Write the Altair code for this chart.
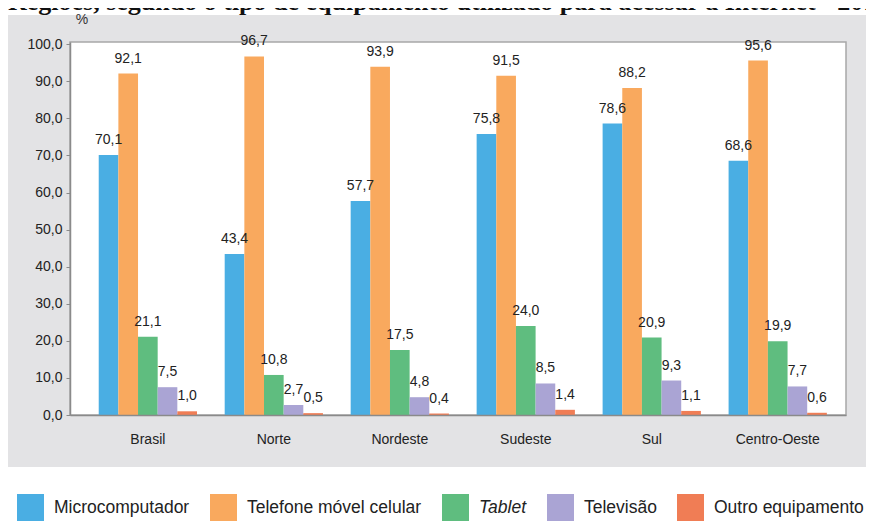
import altair as alt
import pandas as pd

regioes = ["Brasil", "Norte", "Nordeste", "Sudeste", "Sul", "Centro-Oeste"]
equipamentos = ["Microcomputador", "Telefone móvel celular", "Tablet", "Televisão", "Outro equipamento"]
microcomputador = [70.1, 43.4, 57.7, 75.8, 78.6, 68.6]
telefone = [92.1, 96.7, 93.9, 91.5, 88.2, 95.6]
tablet = [21.1, 10.8, 17.5, 24.0, 20.9, 19.9]
televisao = [7.5, 2.7, 4.8, 8.5, 9.3, 7.7]
outro = [1.0, 0.5, 0.4, 1.4, 1.1, 0.6]
y_ticks = [0, 10, 20, 30, 40, 50, 60, 70, 80, 90, 100]
cores = ["#4aaee3", "#f9a95e", "#5fbd7f", "#aaa4d4", "#f07d55"]
titulo = "Regiões, segundo o tipo de equipamento utilizado para acessar a Internet - 2015"

series = [microcomputador, telefone, tablet, televisao, outro]
rows = []
for eq, vals in zip(equipamentos, series):
    for r, v in zip(regioes, vals):
        rows.append({"regiao": r, "equip": eq, "valor": v})
df = pd.DataFrame(rows)

W, H = 776, 373
FONT = "Liberation Sans"

x = alt.X("regiao:N", sort=regioes, title=None,
          scale=alt.Scale(paddingInner=0.22, paddingOuter=0.19, align=0.6),
          axis=alt.Axis(labelFont=FONT, labelFontSize=14, labelColor="#222", labelAngle=0,
                        ticks=False, labelPadding=24, labelBaseline="middle",
                        domainColor="#8a8a8a", domainWidth=1.5, zindex=1))
y = alt.Y("valor:Q", title=None,
          scale=alt.Scale(domain=[0, 100.6], nice=False),
          axis=alt.Axis(values=y_ticks, grid=False, labelFont=FONT, labelFontSize=14,
                        labelColor="#222", tickSize=4, tickColor="#8a8a8a", labelPadding=4,
                        domainColor="#8a8a8a", domainWidth=1.5, zindex=1,
                        labelExpr="replace(format(datum.value, '.1f'), '.', ',')"))
xoff = alt.XOffset("equip:N", sort=equipamentos, scale=alt.Scale(paddingInner=0, paddingOuter=0))
color = alt.Color("equip:N", sort=equipamentos,
                  scale=alt.Scale(domain=equipamentos, range=cores),
                  legend=alt.Legend(orient="none", legendX=-53, legendY=452, direction="horizontal",
                                    columns=5, title=None, symbolType="square", symbolSize=729,
                                    symbolStrokeWidth=0, symbolOpacity=1, labelFont=FONT,
                                    labelFontSize=17.5, labelColor="#222", labelOffset=10,
                                    columnPadding=20, padding=0, labelLimit=400,
                                    labelFontStyle=alt.ExprRef(expr="datum.label == 'Tablet' ? 'italic' : 'normal'")))

one = pd.DataFrame({"a": [0]})

panel = alt.Chart(one).mark_rect(color="#e3e3e5").encode(
    x=alt.value(-64), x2=alt.value(W + 28), y=alt.value(-27), y2=alt.value(H + 52))
plotbg = alt.Chart(one).mark_rect(fill="white", stroke="#a8a8a8", strokeWidth=1.5).encode(
    x=alt.value(0), x2=alt.value(W), y=alt.value(0), y2=alt.value(H))

bars = alt.Chart(df).mark_bar().encode(x=x, y=y, xOffset=xoff, color=color)
labels = alt.Chart(df).transform_calculate(
    rot="replace(format(datum.valor, '.1f'), '.', ',')"
).mark_text(font=FONT, fontSize=14, color="#222", baseline="middle", dy=-15).encode(
    x=x, y=y, xOffset=xoff, text="rot:N")

pct = alt.Chart(pd.DataFrame({"t": ["%"]})).mark_text(
    font=FONT, fontSize=14, color="#333", baseline="middle", align="center").encode(
    x=alt.value(12), y=alt.value(-22), text="t:N")
title_txt = alt.Chart(pd.DataFrame({"t": [titulo]})).mark_text(
    font="Liberation Serif", fontSize=26, fontWeight="bold", color="#111",
    align="left", baseline="alphabetic").encode(
    x=alt.value(-62), y=alt.value(-32), text="t:N")

chart = alt.layer(panel, plotbg, bars, labels, pct, title_txt).properties(
    width=W, height=H,
    autosize=alt.AutoSizeParams(type="none"),
    padding={"left": 62, "top": 34, "right": 20, "bottom": 106},
).configure_view(stroke=None).configure(background="white")

chart.save("out.html", embed_options={"renderer": "svg", "actions": False})
